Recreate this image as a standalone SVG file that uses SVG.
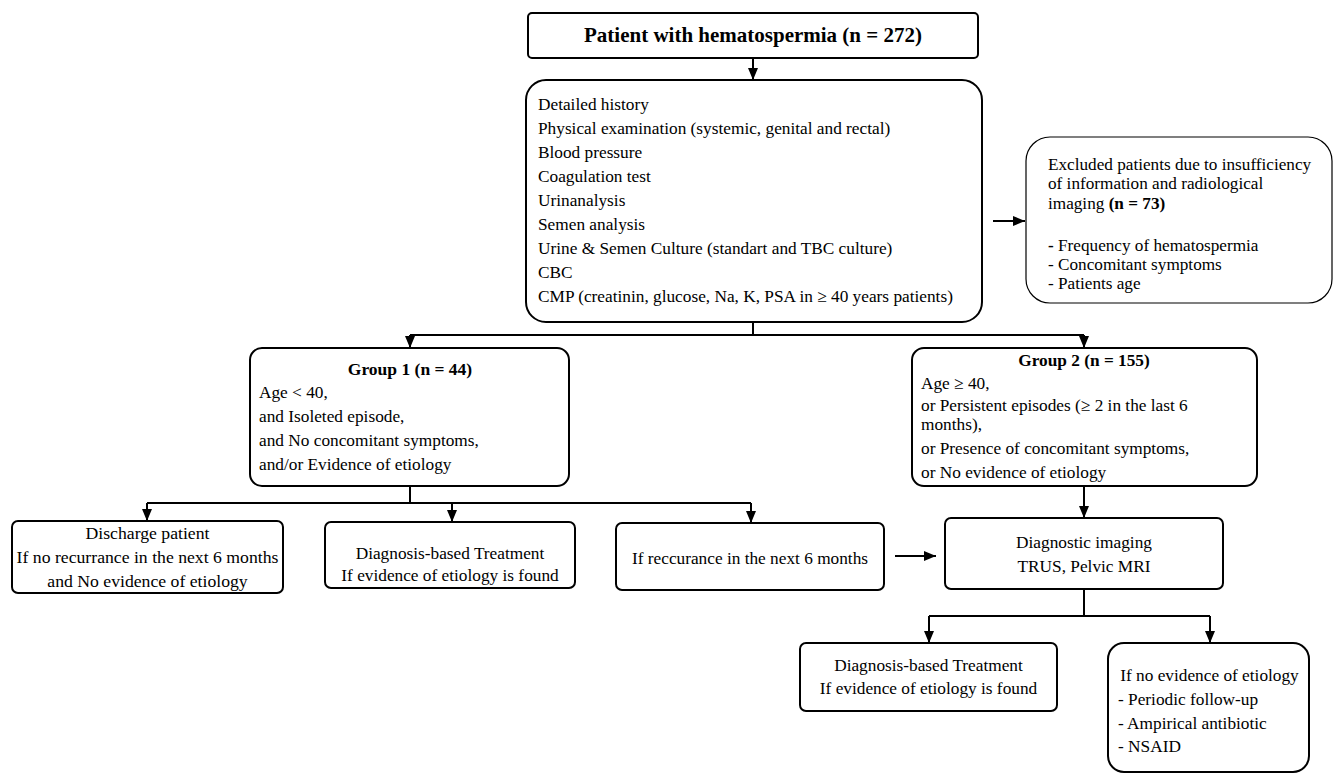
<svg xmlns="http://www.w3.org/2000/svg" width="1333" height="776" viewBox="0 0 1333 776">
<defs>
<marker id="ah" viewBox="0 0 12 10" refX="12" refY="5" markerWidth="12" markerHeight="10" markerUnits="userSpaceOnUse" orient="auto">
<path d="M0,0 L12,5 L0,10 Z" fill="#000"/>
</marker>
<style>
.box{fill:#fff;stroke:#000;stroke-width:2}
.ln{fill:none;stroke:#000;stroke-width:2}
.ar{fill:none;stroke:#000;stroke-width:2;marker-end:url(#ah)}
text{font-family:"Liberation Serif","Times New Roman",serif;font-size:17.3px;fill:#000}
.b{font-weight:bold}
.c{text-anchor:middle}
.s{font-size:17.2px}
</style>
</defs>
<rect width="1333" height="776" fill="#fff"/>
<g id="connectors">
<path class="ar" d="M753,58 V80"/>
<path class="ar" d="M993,221 H1025"/>
<path class="ln" d="M753,322 V335 M410,335 H1084"/>
<path class="ar" d="M410,335 V348"/>
<path class="ar" d="M1084,335 V348"/>
<path class="ln" d="M410,486 V503 M147,503 H751"/>
<path class="ar" d="M147,503 V521"/>
<path class="ar" d="M452,503 V522"/>
<path class="ar" d="M751,503 V523"/>
<path class="ar" d="M1084,486 V518"/>
<path class="ar" d="M895,556 H936"/>
<path class="ln" d="M1084,589 V616 M929,616 H1210"/>
<path class="ar" d="M929,616 V643"/>
<path class="ar" d="M1210,616 V643"/>
</g>
<g id="n-patient">
<rect class="box" x="528" y="13" width="450" height="45" rx="4"/>
<text class="b c" x="753" y="42" style="font-size:21px">Patient with hematospermia (n = 272)</text>
</g>
<g id="n-workup">
<rect class="box" x="526" y="80" width="456" height="242" rx="20"/>
<text x="538" y="110">Detailed history</text>
<text x="538" y="134">Physical examination (systemic, genital and rectal)</text>
<text x="538" y="158">Blood pressure</text>
<text x="538" y="182">Coagulation test</text>
<text x="538" y="206">Urinanalysis</text>
<text x="538" y="230">Semen analysis</text>
<text x="538" y="254">Urine &amp; Semen Culture (standart and TBC culture)</text>
<text x="538" y="278">CBC</text>
<text x="538" y="302">CMP (creatinin, glucose, Na, K, PSA in ≥ 40 years patients)</text>
</g>
<g id="n-excluded">
<rect class="box" x="1026" y="137" width="306" height="166" rx="24" style="stroke-width:1.2"/>
<text class="s" x="1048" y="170">Excluded patients due to insufficiency</text>
<text class="s" x="1048" y="189">of information and radiological</text>
<text class="s" x="1048" y="209">imaging <tspan class="b">(n = 73)</tspan></text>
<text class="s" x="1048" y="251"><tspan class="b">-</tspan> Frequency of hematospermia</text>
<text class="s" x="1048" y="270">- Concomitant symptoms</text>
<text class="s" x="1048" y="289">- Patients age</text>
</g>
<g id="n-group1">
<rect class="box" x="250" y="348" width="319" height="138" rx="12"/>
<text class="b c" x="410" y="375" style="font-size:17.5px">Group 1 (n = 44)</text>
<text x="259" y="398">Age &lt; 40,</text>
<text x="259" y="422">and Isoleted episode,</text>
<text x="259" y="446">and No concomitant symptoms,</text>
<text x="259" y="470">and/or Evidence  of etiology</text>
</g>
<g id="n-group2">
<rect class="box" x="912" y="348" width="345" height="138" rx="12"/>
<text class="b c" x="1084" y="366">Group 2 (n = 155)</text>
<text x="921" y="389">Age ≥ 40,</text>
<text x="921" y="411">or Persistent episodes (≥ 2 in the last 6</text>
<text x="921" y="430">months),</text>
<text x="921" y="454">or Presence of concomitant symptoms,</text>
<text x="921" y="478">or No evidence of etiology</text>
</g>
<g id="n-discharge">
<rect class="box" x="12" y="521" width="271" height="72" rx="6"/>
<text class="c" x="147.5" y="539" style="font-size:17.7px">Discharge patient</text>
<text class="c" x="147.5" y="563" style="font-size:17.7px">If no recurrance in the next 6 months</text>
<text class="c" x="147.5" y="587" style="font-size:17.7px">and No evidence of etiology</text>
</g>
<g id="n-treat1">
<rect class="box" x="325" y="522" width="250" height="66" rx="6"/>
<text class="c" x="450" y="559">Diagnosis-based Treatment</text>
<text class="c" x="450" y="581">If evidence of etiology is found</text>
</g>
<g id="n-recur">
<rect class="box" x="616" y="523" width="268" height="67" rx="6"/>
<text class="c" x="750" y="564">If reccurance in the next 6 months</text>
</g>
<g id="n-imaging">
<rect class="box" x="945" y="518" width="278" height="71" rx="6"/>
<text class="c" x="1084" y="548">Diagnostic imaging</text>
<text class="c" x="1084" y="572">TRUS, Pelvic MRI</text>
</g>
<g id="n-treat2">
<rect class="box" x="800" y="643" width="257" height="68" rx="6"/>
<text class="c" x="928.5" y="671">Diagnosis-based Treatment</text>
<text class="c" x="928.5" y="694">If evidence of etiology is found</text>
</g>
<g id="n-noevidence">
<rect class="box" x="1108" y="643" width="201" height="129" rx="16"/>
<text class="c" x="1209.5" y="681">If no evidence of etiology</text>
<text x="1118" y="705">- Periodic follow-up</text>
<text x="1118" y="729">- Ampirical antibiotic</text>
<text x="1118" y="752">- NSAID</text>
</g>
</svg>
